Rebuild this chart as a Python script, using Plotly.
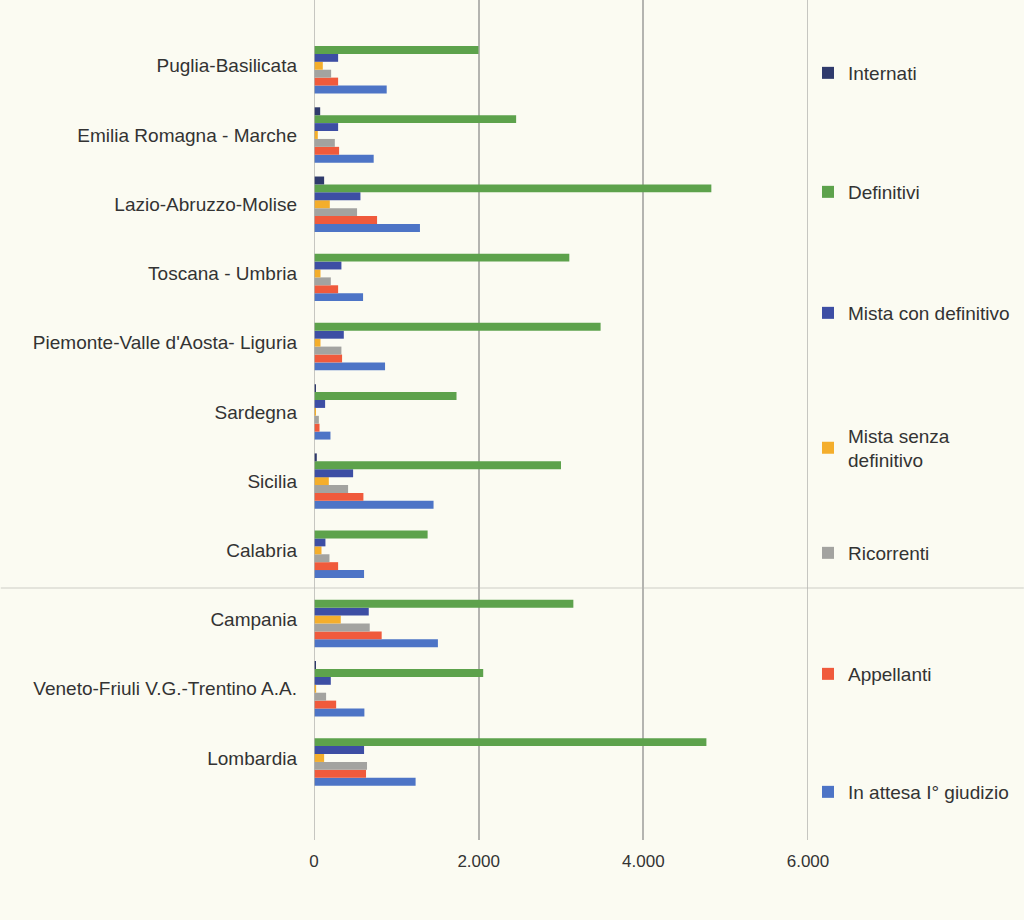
import plotly.graph_objects as go

categories = [
    "Lombardia",
    "Veneto-Friuli V.G.-Trentino A.A.",
    "Campania",
    "Calabria",
    "Sicilia",
    "Sardegna",
    "Piemonte-Valle d'Aosta- Liguria",
    "Toscana - Umbria",
    "Lazio-Abruzzo-Molise",
    "Emilia Romagna - Marche",
    "Puglia-Basilicata",
]

in_attesa = [1234, 612, 1505, 608, 1452, 200, 863, 596, 1287, 725, 883]
appellanti = [632, 269, 822, 293, 600, 67, 341, 293, 766, 305, 293]
ricorrenti = [644, 147, 677, 188, 414, 59, 333, 204, 523, 253, 208]
mista_senza = [123, 26, 325, 91, 180, 18, 79, 79, 192, 46, 107]
mista_con = [608, 204, 665, 139, 475, 135, 362, 333, 564, 293, 293]
definitivi = [4766, 2055, 3150, 1380, 3000, 1731, 3481, 3101, 4826, 2455, 1998]
internati = [0, 14, 0, 0, 34, 18, 0, 0, 123, 75, 0]

series_names = [
    "In attesa I° giudizio",
    "Appellanti",
    "Ricorrenti",
    "Mista senza<br>definitivo",
    "Mista con definitivo",
    "Definitivi",
    "Internati",
]
series_values = [in_attesa, appellanti, ricorrenti, mista_senza, mista_con, definitivi, internati]
colors = ["#4d74c6", "#f05a3c", "#a3a3a0", "#f4ae2c", "#3d4ea4", "#5da24c", "#2f3a6c"]

x_ticks = [0, 2000, 4000, 6000]
x_tick_labels = ["0", "2.000", "4.000", "6.000"]

FONT = "Liberation Sans, Arial, sans-serif"
BG = "#fbfbf2"

# plot area geometry (pixels)
L, R, T, B = 313.5, 216, 0, 80
W, H = 1024, 920
PW, PH = W - L - R, H - T - B

# legend item centres (pixel y from top), one legend per series
legend_centres = [792, 674, 553, 448, 313, 192, 73]
legend_left_px = 808

fig = go.Figure()
legend_layout = {}
for i, (name, vals) in enumerate(zip(series_names, series_values)):
    key = "legend" if i == 0 else f"legend{i + 1}"
    fig.add_trace(go.Bar(
        y=list(range(len(categories))),
        x=vals,
        name=name,
        orientation="h",
        marker=dict(color=colors[i], line=dict(width=0)),
        legend=key,
    ))
    legend_layout[key] = dict(
        x=(legend_left_px - L) / PW,
        xanchor="left",
        y=(H - B - legend_centres[i]) / PH,
        yanchor="middle",
        font=dict(family=FONT, size=19, color="#333333"),
        bgcolor="rgba(0,0,0,0)",
        itemwidth=30,
    )

fig.update_layout(
    width=W,
    height=H,
    barmode="group",
    bargap=0.2,
    bargroupgap=0,
    paper_bgcolor=BG,
    plot_bgcolor=BG,
    margin=dict(l=L, r=R, t=T, b=B, autoexpand=False),
    font=dict(family=FONT, size=17, color="#333333"),
    showlegend=True,
    xaxis=dict(
        range=[0, 6000],
        tickvals=x_ticks,
        ticktext=x_tick_labels,
        showgrid=True,
        gridcolor="#b4b4b0",
        gridwidth=1.5,
        zeroline=False,
        showline=False,
        ticks="",
        ticklabelstandoff=9,
        tickfont=dict(family=FONT, size=17, color="#333333"),
    ),
    yaxis=dict(
        range=[-1.185, 10.95],
        tickvals=list(range(len(categories))),
        ticktext=categories,
        showgrid=False,
        zeroline=False,
        showline=False,
        ticks="",
        ticklabelstandoff=16,
        tickfont=dict(family=FONT, size=19, color="#333333"),
    ),
    **legend_layout,
)

# vertical lines at 0 and 6000 (plot edges)
for xv in (0, 6000):
    fig.add_shape(type="line", xref="x", yref="paper", x0=xv, x1=xv, y0=0, y1=1,
                  line=dict(color="#b4b4b0", width=1.5))
# faint horizontal fold line seen across the scan
fig.add_shape(type="line", xref="paper", yref="paper",
              x0=-L / PW, x1=(W - L) / PW,
              y0=(H - B - 588) / PH, y1=(H - B - 588) / PH,
              line=dict(color="#dcdcd4", width=1.5), layer="below")

fig.write_html(
    "out.html",
    config={"displayModeBar": False},
    post_script=(
        "document.body.style.margin='0';"
        "document.body.style.overflow='hidden';"
        f"document.body.style.background='{BG}';"
    ),
)
